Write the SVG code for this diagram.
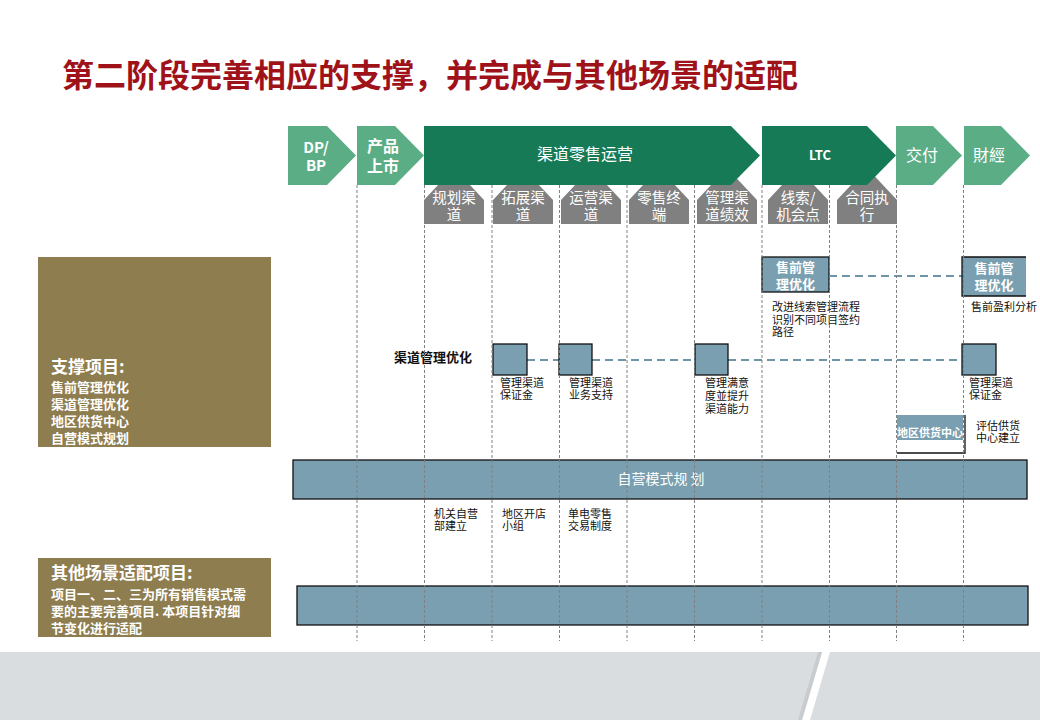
<svg xmlns="http://www.w3.org/2000/svg" width="1040" height="720" viewBox="0 0 1040 720">
<style>
text{font-family:"Noto Sans CJK SC","Noto Sans",sans-serif}
.lg{fill:#5BAD85}
.dg{fill:#177A57}
.gr{fill:#808080}
.ol{fill:#8E7D4F}
.bl{fill:#7A9FB1;stroke:#111;stroke-width:1.3}
.wt{fill:#fff;text-anchor:middle}
.hd{font-size:16px;font-weight:bold}
.sub{font-size:14.5px}
.lt{font-size:13px;font-weight:bold;fill:#fff}
.lh{font-size:17px;font-weight:bold;fill:#fff}
.sm{font-size:11px;fill:#111}
.vl{stroke:#808080;stroke-width:1;stroke-dasharray:3 2}
.dl{stroke:#6E94A8;stroke-width:2;stroke-dasharray:8 5;fill:none}
</style>
<rect width="1040" height="720" fill="#fff"/>
<g id="footer">
<rect x="0" y="652" width="1040" height="68" fill="#DADDE0"/>
<polygon points="822,652 830,652 810,720 802,720" fill="#fff"/>
<polygon points="818,652 822,652 802,720 798,720" fill="#C9CCCF"/>
</g>
<g id="title"><text x="62" y="87" font-size="32" font-weight="bold" fill="#A0121A">第二阶段完善相应的支撑，并完成与其他场景的适配</text></g>
<g id="sub-steps">
<g id="s1"><polygon class="gr" points="424,224 424,200 454,168 484,200 484,224"/><text class="wt sub" x="454" y="203">规划渠</text><text class="wt sub" x="454" y="220">道</text></g>
<g id="s2"><polygon class="gr" points="493,224 493,200 523,168 553,200 553,224"/><text class="wt sub" x="523" y="203">拓展渠</text><text class="wt sub" x="523" y="220">道</text></g>
<g id="s3"><polygon class="gr" points="561,224 561,200 591,168 621,200 621,224"/><text class="wt sub" x="591" y="203">运营渠</text><text class="wt sub" x="591" y="220">道</text></g>
<g id="s4"><polygon class="gr" points="629,224 629,200 659,168 689,200 689,224"/><text class="wt sub" x="659" y="203">零售终</text><text class="wt sub" x="659" y="220">端</text></g>
<g id="s5"><polygon class="gr" points="697,224 697,200 727,168 757,200 757,224"/><text class="wt sub" x="727" y="203">管理渠</text><text class="wt sub" x="727" y="220">道绩效</text></g>
<g id="s6"><polygon class="gr" points="768,224 768,200 798,168 828,200 828,224"/><text class="wt sub" x="798" y="203">线索/</text><text class="wt sub" x="798" y="220">机会点</text></g>
<g id="s7"><polygon class="gr" points="837,224 837,200 867,168 897,200 897,224"/><text class="wt sub" x="867" y="203">合同执</text><text class="wt sub" x="867" y="220">行</text></g>
</g>
<g id="phases">
<g id="p1"><polygon class="lg" points="288,126 327,126 356,155.5 327,185 288,185"/><text class="wt" x="316" y="153" font-size="15" font-weight="bold">DP/</text><text class="wt" x="316" y="171" font-size="15" font-weight="bold">BP</text></g>
<g id="p2"><polygon class="lg" points="357,126 395,126 424,155.5 395,185 357,185"/><text class="wt hd" x="383" y="152">产品</text><text class="wt hd" x="383" y="172">上市</text></g>
<g id="p3"><polygon class="dg" points="424,126 731,126 760,155.5 731,185 424,185"/><text class="wt" x="585" y="160" font-size="16">渠道零售运营</text></g>
<g id="p4"><polygon class="dg" points="762,126 867,126 896,155.5 867,185 762,185"/><text class="wt" x="820" y="160" font-size="13" font-weight="bold">LTC</text></g>
<g id="p5"><polygon class="lg" points="896,126 933,126 962,155.5 933,185 896,185"/><text class="wt" x="922" y="161" font-size="16">交付</text></g>
<g id="p6"><polygon class="lg" points="964,126 1001,126 1030,155.5 1001,185 964,185"/><text class="wt" x="989" y="161" font-size="16">財經</text></g>
</g>
<g id="support-panel">
<rect class="ol" x="38" y="257" width="233" height="190"/>
<text class="lh" x="51" y="373">支撑项目:</text>
<text class="lt" x="51" y="392">售前管理优化</text>
<text class="lt" x="51" y="409">渠道管理优化</text>
<text class="lt" x="51" y="426">地区供货中心</text>
<text class="lt" x="51" y="443">自营模式规划</text>
</g>
<g id="other-panel">
<rect class="ol" x="38" y="558" width="233" height="79"/>
<text class="lh" x="51" y="579">其他场景适配项目:</text>
<text class="lt" x="51" y="599">项目一、二、三为所有销售模式需</text>
<text class="lt" x="51" y="616">要的主要完善项目. 本项目针对细</text>
<text class="lt" x="51" y="633">节变化进行适配</text>
</g>
<g id="connectors">
<line class="dl" x1="829" y1="276" x2="962" y2="276"/>
<line class="dl" x1="527" y1="360" x2="559" y2="360"/>
<line class="dl" x1="592" y1="360" x2="695" y2="360"/>
<line class="dl" x1="728" y1="360" x2="962" y2="360"/>
</g>
<g id="presales-1">
<rect class="bl" x="762" y="257" width="67" height="35"/>
<text class="wt" x="795.5" y="272" font-size="13" font-weight="bold">售前管</text>
<text class="wt" x="795.5" y="289" font-size="13" font-weight="bold">理优化</text>
<text class="sm" x="772" y="311">改进线索管理流程</text>
<text class="sm" x="772" y="323.5">识别不同项目签约</text>
<text class="sm" x="772" y="336">路径</text>
</g>
<g id="presales-2">
<rect x="962" y="257" width="64" height="39" fill="#7A9FB1"/>
<path d="M1026,257 H962 V296 H1026" fill="none" stroke="#111" stroke-width="1.3"/>
<text class="wt" x="994" y="273" font-size="13" font-weight="bold">售前管</text>
<text class="wt" x="994" y="290" font-size="13" font-weight="bold">理优化</text>
<text class="sm" x="971" y="311">售前盈利分析</text>
</g>
<g id="channel-label"><text x="394" y="362" font-size="13" font-weight="bold" fill="#111">渠道管理优化</text></g>
<g id="ch1"><rect class="bl" x="493" y="344" width="34" height="31"/><text class="sm" x="500" y="387">管理渠道</text><text class="sm" x="500" y="399">保证金</text></g>
<g id="ch2"><rect class="bl" x="559" y="344" width="33" height="31"/><text class="sm" x="569" y="387">管理渠道</text><text class="sm" x="569" y="399">业务支持</text></g>
<g id="ch3"><rect class="bl" x="695" y="344" width="33" height="31"/><text class="sm" x="705" y="387">管理满意</text><text class="sm" x="705" y="400">度並提升</text><text class="sm" x="705" y="413">渠道能力</text></g>
<g id="ch4"><rect class="bl" x="962" y="344" width="34" height="31"/><text class="sm" x="969" y="387">管理渠道</text><text class="sm" x="969" y="399">保证金</text></g>
<g id="supply-center">
<rect x="897" y="415" width="66" height="25" fill="#7A9FB1"/>
<path d="M897,453 H965 V415" fill="none" stroke="#111" stroke-width="1.3"/>
<text class="wt" x="930" y="437" font-size="11" font-weight="bold">地区供货中心</text>
<text class="sm" x="976" y="430">评估供货</text>
<text class="sm" x="976" y="442">中心建立</text>
</g>
<g id="self-run">
<rect class="bl" x="293" y="460" width="734" height="39"/>
<text class="wt" x="661" y="484" font-size="14">自营模式规 划</text>
<text class="sm" x="434" y="518">机关自营</text><text class="sm" x="434" y="530">部建立</text>
<text class="sm" x="502" y="518">地区开店</text><text class="sm" x="502" y="530">小组</text>
<text class="sm" x="568" y="518">单电零售</text><text class="sm" x="568" y="530">交易制度</text>
</g>
<g id="other-bar"><rect class="bl" x="297" y="586" width="731" height="39"/></g>
<g id="grid">
<line class="vl" x1="357" y1="185" x2="357" y2="641"/>
<line class="vl" x1="424.5" y1="185" x2="424.5" y2="641"/>
<line class="vl" x1="492" y1="185" x2="492" y2="641"/>
<line class="vl" x1="559.5" y1="185" x2="559.5" y2="641"/>
<line class="vl" x1="627" y1="185" x2="627" y2="641"/>
<line class="vl" x1="694.5" y1="185" x2="694.5" y2="641"/>
<line class="vl" x1="762" y1="185" x2="762" y2="641"/>
<line class="vl" x1="829.5" y1="185" x2="829.5" y2="641"/>
<line class="vl" x1="896.5" y1="185" x2="896.5" y2="641"/>
<line class="vl" x1="963.5" y1="185" x2="963.5" y2="641"/>
</g>
</svg>
